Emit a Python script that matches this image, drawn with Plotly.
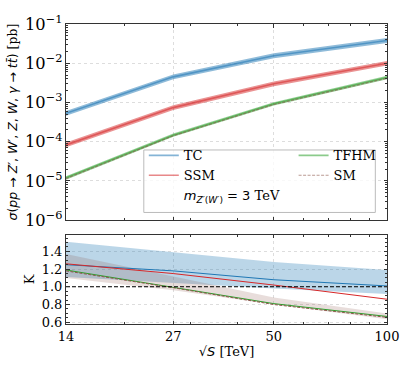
import math
import plotly.graph_objects as go

# ---------------- data ----------------
energies = [14, 27, 50, 100]
energy_ticks = ["14", "27", "50", "100"]

xsec_tc = [5.3e-4, 4.5e-3, 1.55e-2, 3.8e-2]
xsec_tc_lo = [4.6e-4, 3.9e-3, 1.35e-2, 3.3e-2]
xsec_tc_hi = [6.1e-4, 5.2e-3, 1.8e-2, 4.4e-2]

xsec_ssm = [8.3e-5, 7.4e-4, 3.0e-3, 1.0e-2]
xsec_ssm_lo = [7.2e-5, 6.4e-4, 2.6e-3, 8.8e-3]
xsec_ssm_hi = [9.5e-5, 8.5e-4, 3.45e-3, 1.14e-2]

xsec_tfhm = [1.2e-5, 1.47e-4, 9.3e-4, 4.35e-3]
xsec_tfhm_lo = [1.08e-5, 1.33e-4, 8.4e-4, 3.9e-3]
xsec_tfhm_hi = [1.32e-5, 1.62e-4, 1.02e-3, 4.8e-3]

xsec_sm = [1.15e-5, 1.42e-4, 8.9e-4, 4.15e-3]

k_tc = [1.25, 1.18, 1.08, 1.01]
k_tc_lo = [1.11, 1.045, 0.98, 0.92]
k_tc_hi = [1.51, 1.39, 1.28, 1.19]
k_ssm = [1.26, 1.15, 1.02, 0.86]
k_tfhm = [1.19, 0.995, 0.81, 0.665]
k_sm = [1.18, 0.99, 0.80, 0.655]
k_sm_lo = [1.10, 0.96, 0.80, 0.635]
k_sm_hi = [1.37, 1.12, 0.88, 0.70]
k_ref = [1.0, 1.0]
k_ref_x = [14, 100]

y_ticks_k = [0.6, 0.8, 1.0, 1.2, 1.4]

# ---------------- styles ----------------
BLUE = (31, 119, 180)
RED = (214, 39, 40)
GREEN = (44, 160, 44)
BROWN = (140, 86, 75)


def rgba(c, a):
    return f"rgba({c[0]},{c[1]},{c[2]},{a})"


SERIF = "DejaVu Serif"

fig = go.Figure()


def band(x, lo, hi, color, alpha, xa, ya):
    fig.add_trace(go.Scatter(x=x, y=lo, mode="lines", line=dict(width=0, color=rgba(color, 0)),
                             showlegend=False, hoverinfo="skip", xaxis=xa, yaxis=ya))
    fig.add_trace(go.Scatter(x=x, y=hi, mode="lines", line=dict(width=0, color=rgba(color, 0)),
                             fill="tonexty", fillcolor=rgba(color, alpha),
                             showlegend=False, hoverinfo="skip", xaxis=xa, yaxis=ya))


# top panel bands
band(energies, xsec_tc_lo, xsec_tc_hi, BLUE, 0.5, "x", "y")
band(energies, xsec_ssm_lo, xsec_ssm_hi, RED, 0.5, "x", "y")
band(energies, xsec_tfhm_lo, xsec_tfhm_hi, GREEN, 0.5, "x", "y")

# top panel lines (legend entries)
fig.add_trace(go.Scatter(x=energies, y=xsec_tc, mode="lines", name="TC",
                         line=dict(color=rgba(BLUE, 0.55), width=1.6), legend="legend", legendrank=1))
fig.add_trace(go.Scatter(x=energies, y=xsec_ssm, mode="lines", name="SSM",
                         line=dict(color=rgba(RED, 0.55), width=1.6), legend="legend", legendrank=2))
fig.add_trace(go.Scatter(x=energies, y=xsec_tfhm, mode="lines", name="TFHM",
                         line=dict(color=rgba(GREEN, 0.55), width=1.6), legend="legend2", legendrank=1))
fig.add_trace(go.Scatter(x=energies, y=xsec_sm, mode="lines", name="SM",
                         line=dict(color=rgba(BROWN, 0.6), width=1.2, dash="3px,1.5px"),
                         legend="legend2", legendrank=2))
fig.add_trace(go.Scatter(x=[None], y=[None], mode="lines",
                         name="<span style='font-family:DejaVu Sans'><i>m</i><sub><i>Z′</i>(<i>W′</i>)</sub> = 3</span> TeV",
                         line=dict(color="rgba(0,0,0,0)", width=0), legend="legend", legendrank=3,
                         hoverinfo="skip"))

# bottom panel bands
band(energies, k_tc_lo, k_tc_hi, BLUE, 0.3, "x2", "y2")
band(energies, k_sm_lo, k_sm_hi, BROWN, 0.2, "x2", "y2")

# bottom panel lines
fig.add_trace(go.Scatter(x=energies, y=k_tc, mode="lines", line=dict(color=rgba(BLUE, 1), width=1),
                         showlegend=False, xaxis="x2", yaxis="y2"))
fig.add_trace(go.Scatter(x=energies, y=k_ssm, mode="lines", line=dict(color=rgba(RED, 1), width=1),
                         showlegend=False, xaxis="x2", yaxis="y2"))
fig.add_trace(go.Scatter(x=energies, y=k_tfhm, mode="lines", line=dict(color=rgba(GREEN, 1), width=1),
                         showlegend=False, xaxis="x2", yaxis="y2"))
fig.add_trace(go.Scatter(x=energies, y=k_sm, mode="lines",
                         line=dict(color=rgba(BROWN, 1), width=1, dash="3px,1.5px"),
                         showlegend=False, xaxis="x2", yaxis="y2"))
fig.add_trace(go.Scatter(x=k_ref_x, y=k_ref, mode="lines",
                         line=dict(color="black", width=1.1, dash="4px,2px"),
                         showlegend=False, xaxis="x2", yaxis="y2"))

AX = "#333333"
GRID = "#dddddd"
common_axis = dict(showline=True, linecolor=AX, linewidth=1, mirror="allticks",
                   ticks="inside", ticklen=3.5, tickwidth=1, tickcolor=AX,
                   showgrid=True, gridcolor=GRID, gridwidth=1, griddash="dot",
                   zeroline=False, tickfont=dict(family=SERIF, size=13, color="black"))

xr = [math.log10(14), 2]
fig.update_layout(
    width=411, height=370,
    margin=dict(l=62, r=19, t=12, b=46),
    paper_bgcolor="white", plot_bgcolor="white",
    font=dict(family=SERIF, size=12, color="black"),
    xaxis=dict(type="log", range=xr, domain=[0, 1], anchor="y",
               tickvals=energies, ticktext=energy_ticks, showticklabels=False,
               minor=dict(ticks="inside", ticklen=2, tickcolor=AX, dtick="D1", showgrid=False),
               **common_axis),
    yaxis=dict(type="log", range=[-6, -1], domain=[0.346, 1], anchor="x",
               dtick=1, exponentformat="power", showexponent="all",
               minor=dict(ticks="inside", ticklen=2, tickcolor=AX, dtick="D1", showgrid=False),
               title=dict(text="<span style='font-family:DejaVu Sans'><i>σ</i>(<i>pp</i> → <i>Z′</i>, <i>W′</i>, <i>Z</i>, <i>W</i>, <i>γ</i> → <i>tt̄</i>)</span> [pb]",
                          font=dict(family=SERIF, size=12.5), standoff=4),
               **common_axis),
    xaxis2=dict(type="log", range=xr, domain=[0, 1], anchor="y2", matches="x",
                tickvals=energies, ticktext=energy_ticks,
                minor=dict(ticks="inside", ticklen=2, tickcolor=AX, dtick="D1", showgrid=False),
                title=dict(text="√<span style='font-family:DejaVu Sans'><i>S</i></span> [TeV]",
                           font=dict(family=SERIF, size=13), standoff=4),
                **common_axis),
    yaxis2=dict(range=[0.58, 1.59], domain=[0, 0.298], anchor="x2",
                tickvals=y_ticks_k, tickformat=".1f",
                minor=dict(ticks="inside", ticklen=2, tickcolor=AX, dtick=0.05, showgrid=False),
                title=dict(text="K", font=dict(family=SERIF, size=13), standoff=4),
                **common_axis),
    legend=dict(x=0.2424, y=0.612, xanchor="left", yanchor="top", bgcolor="rgba(0,0,0,0)",
                borderwidth=0, font=dict(family=SERIF, size=13), tracegroupgap=0,
                traceorder="normal", itemwidth=30),
    legend2=dict(x=0.709, y=0.612, xanchor="left", yanchor="top", bgcolor="rgba(0,0,0,0)",
                 borderwidth=0, font=dict(family=SERIF, size=13), tracegroupgap=0,
                 traceorder="normal", itemwidth=30),
    shapes=[dict(type="rect", xref="paper", yref="paper", x0=0.2424, x1=0.9636, y0=0.3718, y1=0.5801,
                 line=dict(color="#bbbbbb", width=1), fillcolor="rgba(255,255,255,0.8)", layer="above")],
)

fig.write_html("out.html", config={"displayModeBar": False},
               post_script="document.body.style.margin='0px';")
